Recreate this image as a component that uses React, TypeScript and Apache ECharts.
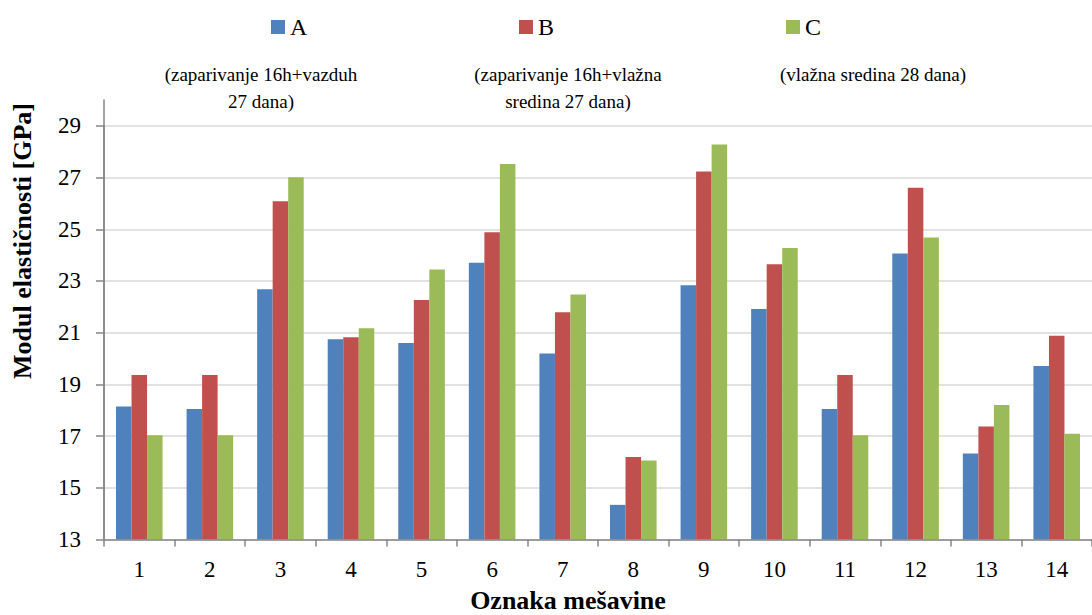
import React, { useEffect, useRef } from "react";
import * as echarts from "echarts";

const categories = ["1", "2", "3", "4", "5", "6", "7", "8", "9", "10", "11", "12", "13", "14"];
const seriesNames = ["A", "B", "C"];
const seriesA = [18.14, 18.05, 22.68, 20.75, 20.6, 23.7, 20.19, 14.34, 22.83, 21.92, 18.05, 24.06, 16.33, 19.71];
const seriesB = [19.36, 19.36, 26.08, 20.82, 22.26, 24.88, 21.79, 16.19, 27.23, 23.65, 19.36, 26.61, 17.37, 20.88];
const seriesC = [17.03, 17.03, 27.01, 21.17, 23.44, 27.52, 22.48, 16.06, 28.28, 24.28, 17.03, 24.68, 18.2, 17.09];
const yMin = 13;
const yMax = 29;
const yStep = 2;
const yAxisTop = 30; // axis line extends to here (no tick/label)
const annotations = [
  "(zaparivanje 16h+vazduh\n27 dana)",
  "(zaparivanje 16h+vlažna\nsredina 27 dana)",
  "(vlažna sredina 28 dana)",
];
const yAxisName = "Modul elastičnosti [GPa]";
const xAxisName = "Oznaka mešavine";

const colors = ["#4F81BD", "#C0504D", "#9BBB59"];
const FONT = '"Liberation Serif", "Times New Roman", serif';

export default function App() {
  const ref = useRef<HTMLDivElement>(null);
  useEffect(() => {
    if (!ref.current) return;
    const chart = echarts.init(ref.current, null, { renderer: "svg" });
    const legendLefts = [271, 519, 786];
    const annX = [261, 568, 873];
    const values = [seriesA, seriesB, seriesC];
    const plotBottom = 539.5;
    const outerTop = 100;
    const pxPerUnit = (plotBottom - outerTop) / (yAxisTop - yMin);
    const innerTop = plotBottom - (yMax - yMin) * pxPerUnit;
    chart.setOption({
      animation: false,
      backgroundColor: "#ffffff",
      textStyle: { fontFamily: FONT },
      legend: seriesNames.map((n, i) => ({
        data: [n],
        left: legendLefts[i],
        top: 15,
        padding: 0,
        itemWidth: 14,
        itemHeight: 14,
        icon: "rect",
        textStyle: { fontFamily: FONT, fontSize: 24, color: "#000", lineHeight: 24 },
      })),
      grid: [
        { left: 104, top: innerTop, width: 1003, height: plotBottom - innerTop, containLabel: false },
        { left: 104, top: outerTop, width: 1003, height: plotBottom - outerTop, containLabel: false },
      ],
      xAxis: [
        {
          type: "category",
          gridIndex: 0,
          data: categories,
          axisLine: { lineStyle: { color: "#868686", width: 1.5 } },
          axisTick: { show: true, length: 7, lineStyle: { color: "#868686", width: 1.5 } },
          axisLabel: { fontFamily: FONT, fontSize: 23, color: "#000", margin: 18 },
          z: 3,
        },
        {
          type: "category",
          gridIndex: 1,
          data: categories,
          show: false,
        },
      ],
      yAxis: [
        {
          type: "value",
          gridIndex: 0,
          min: yMin,
          max: yMax,
          interval: yStep,
          axisLine: { show: true, lineStyle: { color: "#868686", width: 1.5 } },
          axisTick: { show: true, length: 8, lineStyle: { color: "#868686", width: 1.5 } },
          axisLabel: { fontFamily: FONT, fontSize: 23, color: "#000", margin: 23 },
          splitLine: { show: true, lineStyle: { color: "#D9D9D9", width: 1.5 } },
        },
        {
          type: "value",
          gridIndex: 1,
          min: yMin,
          max: yAxisTop,
          axisLine: { show: true, lineStyle: { color: "#868686", width: 1.5 } },
          axisTick: { show: false },
          axisLabel: { show: false },
          splitLine: { show: false },
        },
      ],
      series: seriesNames.map((n, i) => ({
        name: n,
        type: "bar",
        xAxisIndex: 0,
        yAxisIndex: 0,
        data: values[i],
        barGap: "0%",
        barCategoryGap: "34%",
        itemStyle: { color: colors[i] },
      })),
      graphic: [
        ...annotations.map((t, i) => ({
          type: "text",
          x: annX[i],
          y: 61,
          style: {
            text: t,
            font: `19px ${FONT}`,
            textAlign: "center",
            textVerticalAlign: "top",
            lineHeight: 27,
            fill: "#000",
          },
        })),
        {
          type: "text",
          x: 22,
          y: 241,
          rotation: Math.PI / 2,
          style: {
            text: yAxisName,
            font: `bold 26px ${FONT}`,
            textAlign: "center",
            textVerticalAlign: "middle",
            fill: "#000",
          },
        },
        {
          type: "text",
          x: 568,
          y: 600,
          style: {
            text: xAxisName,
            font: `bold 26px ${FONT}`,
            textAlign: "center",
            textVerticalAlign: "middle",
            fill: "#000",
          },
        },
      ],
    });
    return () => chart.dispose();
  }, []);
  return <div ref={ref} style={{ position: "absolute", left: 0, top: 0, width: 1092, height: 615 }} />;
}
